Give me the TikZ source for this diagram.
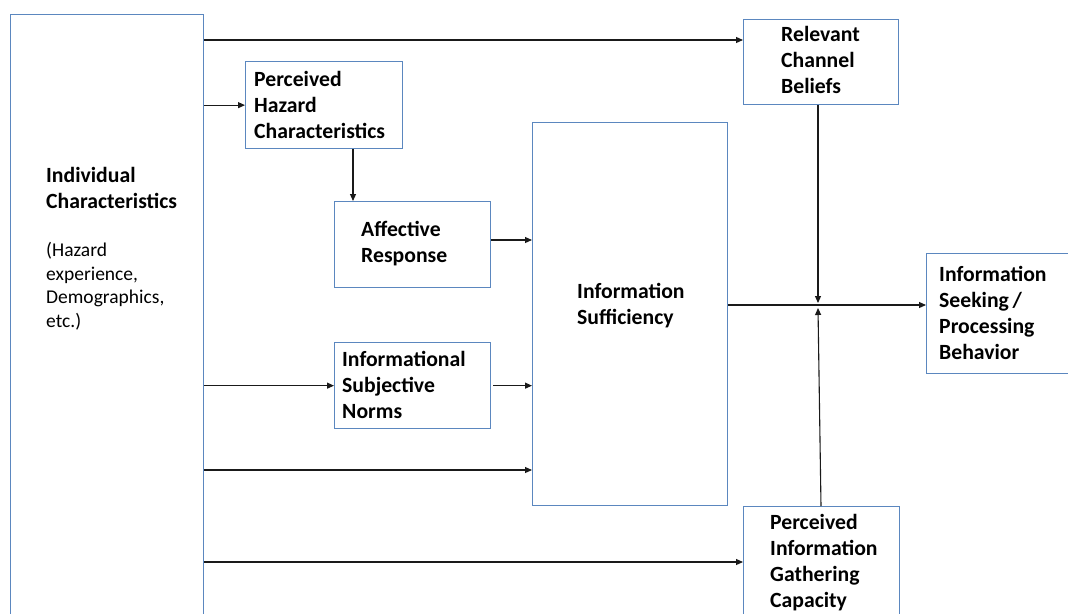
\documentclass[tikz,border=0pt]{standalone}
\usepackage{fontspec}
\setmainfont{Carlito}
\usetikzlibrary{arrows.meta}
\definecolor{boxblue}{HTML}{5B87BF}
\definecolor{linegray}{HTML}{1A1A1A}
\begin{document}
\begin{tikzpicture}[x=1pt,y=-1pt,
  boxn/.style={draw=boxblue, line width=1.3pt, anchor=north west, inner sep=0pt, fill=none},
  hd/.style={anchor=base west, inner sep=0pt, align=left, font=\bfseries\fontsize{21.7}{26}\selectfont},
  sub/.style={anchor=base west, inner sep=0pt, align=left, font=\fontsize{19.5}{23.5}\selectfont},
  arr/.style={draw=linegray, line width=1.1pt, -{Triangle[length=7pt,width=6pt]}}]
\useasboundingbox (0,0) rectangle (1068,613);
\clip (0,0) rectangle (1068,613);
\fill[white] (0,0) rectangle (1068,613);
% boxes
\node[boxn, minimum width=193pt, minimum height=640pt] (ic) at (10,14) {};
\node[boxn, minimum width=157pt, minimum height=87pt] (ph) at (245,61) {};
\node[boxn, minimum width=156pt, minimum height=86pt] (aff) at (334,201) {};
\node[boxn, minimum width=156pt, minimum height=86pt] (isn) at (334,342) {};
\node[boxn, minimum width=195pt, minimum height=383pt] (is) at (532,122) {};
\node[boxn, minimum width=155pt, minimum height=85pt] (rcb) at (743,19) {};
\node[boxn, minimum width=160pt, minimum height=120pt] (ispb) at (926,253) {};
\node[boxn, minimum width=156pt, minimum height=140pt] (pigc) at (743,506) {};
% texts (anchored at the baseline of the last line)
\node[hd] (ictitle) at (46,208) {Individual\\Characteristics};
\node[sub] (icsub) at (46,327) {(Hazard\\experience,\\Demographics,\\etc.)};
\node[hd] (phtxt) at (254,138) {Perceived\\Hazard\\Characteristics};
\node[hd] (afftxt) at (361,262) {Affective\\Response};
\node[hd] (isntxt) at (342,418) {Informational\\Subjective\\Norms};
\node[hd] (istxt) at (577,324) {Information\\Sufficiency};
\node[hd] (rcbtxt) at (781,93) {Relevant\\Channel\\Beliefs};
\node[hd] (ispbtxt) at (939,359) {Information\\Seeking\,/\\Processing\\Behavior};
\node[hd] (pigctxt) at (770,607) {Perceived\\Information\\Gathering\\Capacity};
% junction points
\coordinate (jt) at (818,303);
\coordinate (jb) at (818,308);
% connectors
\draw[arr] (ic.east |- 0,40) -- (rcb.west |- 0,40);
\draw[arr] (ic.east |- ph.west) -- (ph.west);
\draw[arr] (ph.south -| 353,0) -- (aff.north -| 353,0);
\draw[arr] (aff.east |- 0,240) -- (is.west |- 0,240);
\draw[arr] (ic.east |- isn.west) -- (isn.west);
\draw[arr] ([xshift=2pt]isn.east) -- (is.west |- isn.east);
\draw[arr] (ic.east |- 0,470) -- (is.west |- 0,470);
\draw[arr] (ic.east |- 0,562) -- (pigc.west |- 0,562);
\draw[arr] (is.east |- 0,305) -- (ispb.west |- 0,305);
\draw[arr] (rcb.south -| jt) -- (jt);
\draw[arr] (pigc.north -| 821,0) -- (jb);
\end{tikzpicture}
\end{document}
